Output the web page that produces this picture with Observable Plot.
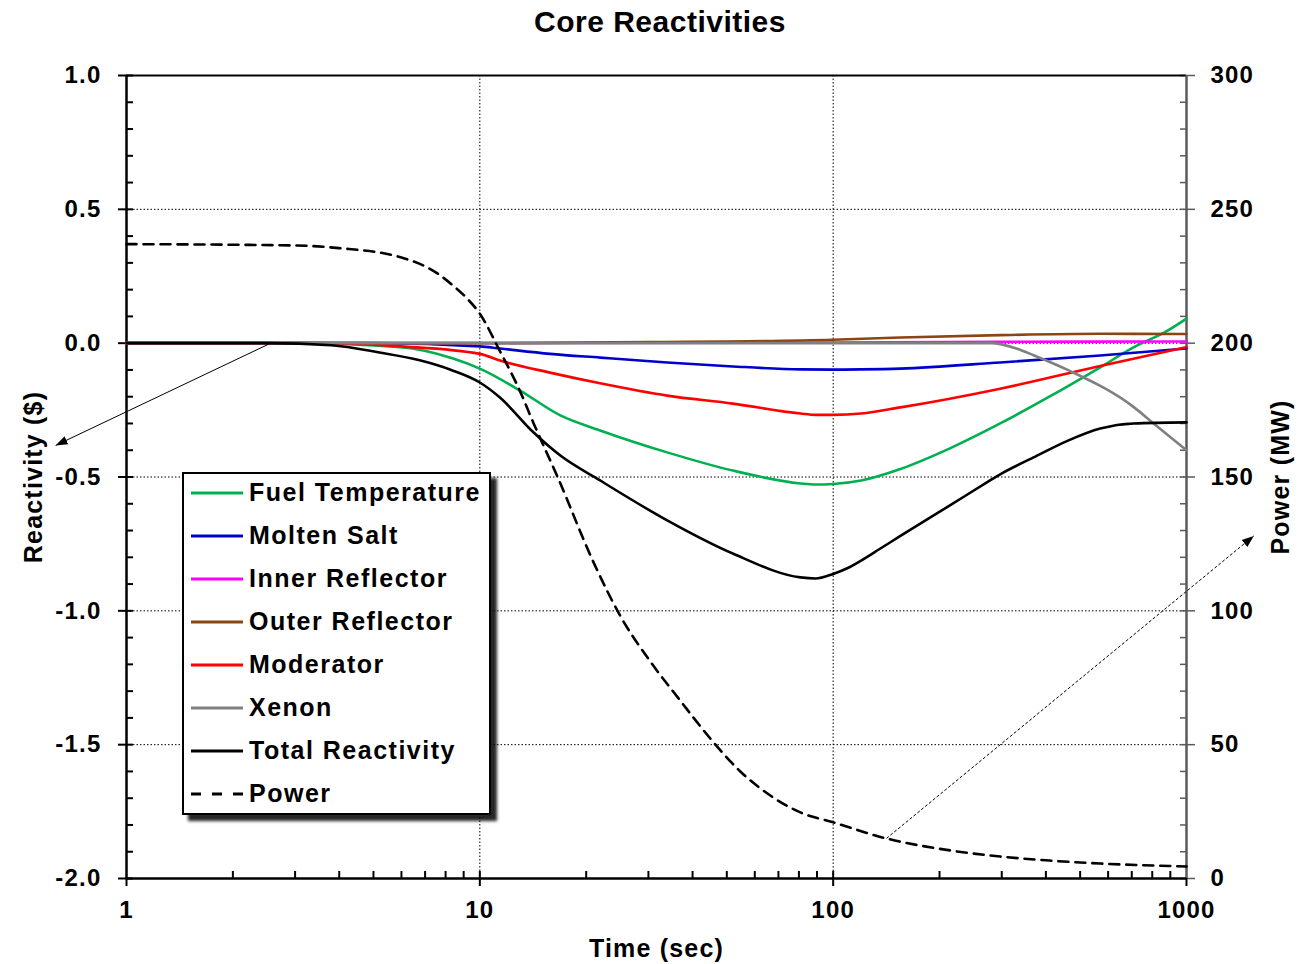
<!DOCTYPE html>
<html><head><meta charset="utf-8">
<script src="https://cdn.jsdelivr.net/npm/d3@7"></script>
<script src="https://cdn.jsdelivr.net/npm/@observablehq/plot@0.6"></script>
<style>
html,body{margin:0;padding:0;background:#fff;overflow:hidden;}
body{font-family:"Liberation Sans",Arial,sans-serif;font-weight:bold;color:#000;position:relative;width:1312px;height:964px;}
#title{height:44px;line-height:44px;text-align:center;font-size:30px;letter-spacing:0.5px;padding-left:8px;box-sizing:border-box;}
#legend{position:absolute;left:182px;top:472px;width:309px;height:343px;box-sizing:border-box;border:2px solid #000;background:#fff;box-shadow:6px 6px 3px rgba(0,0,0,0.85);}
#legend .rows{margin-top:-3px;}
.row{height:43px;display:flex;align-items:center;font-size:25px;letter-spacing:1.5px;padding-left:7px;white-space:nowrap;}
.row svg{margin-right:6px;flex:none;display:block;}
</style></head>
<body>
<div id="title">Core Reactivities</div>
<div id="chart"></div>
<div id="legend"><div class="rows"></div></div>
<script>
// ---------- data (time in sec, reactivity in $, power in MW) ----------
const tFuel = [1, 3, 5.96, 8.4, 10, 13, 16.9, 21.9, 33.9, 52, 80.8, 89, 100, 120, 155, 214, 297, 409, 570, 708, 884, 1000];
const rFuel = [0, 0, -0.015, -0.057, -0.095, -0.177, -0.27, -0.326, -0.408, -0.476, -0.524, -0.528, -0.526, -0.513, -0.47, -0.393, -0.30, -0.20, -0.09, -0.016, 0.047, 0.092];

const tSalt = [1, 5, 10, 11.4, 15.8, 21.9, 33.9, 52, 80.8, 100, 120, 155, 297, 570, 1000];
const rSalt = [0, 0, -0.012, -0.02, -0.04, -0.054, -0.072, -0.087, -0.098, -0.099, -0.098, -0.095, -0.072, -0.046, -0.02];

const tInner = [1, 100, 300, 1000];
const rInner = [0, 0.002, 0.005, 0.006];

const tOuter = [1, 10, 30, 100, 155, 297, 570, 1000];
const rOuter = [0, 0, 0.004, 0.013, 0.021, 0.03, 0.035, 0.034];

const tMod = [1, 3.5, 6, 10, 11.4, 15.8, 21.9, 33.9, 52, 80.8, 89, 100, 120, 155, 297, 570, 1000];
const rMod = [0, 0, -0.012, -0.04, -0.065, -0.11, -0.15, -0.196, -0.226, -0.263, -0.268, -0.268, -0.263, -0.24, -0.17, -0.085, -0.015];

const tXe = [1, 280, 330, 369, 461, 708, 807, 1000];
const rXe = [0, 0, -0.02, -0.045, -0.10, -0.238, -0.30, -0.40];

const tTot = [1, 2.5, 3.8, 5.2, 6.8, 8.3, 10, 11.4, 14.2, 16.9, 21.9, 33.9, 52, 80.8, 89, 100, 110, 120, 135, 155, 214, 278, 297, 369, 462, 570, 708, 1000];
const rTot = [0, 0, -0.008, -0.035, -0.065, -0.10, -0.147, -0.203, -0.334, -0.42, -0.513, -0.662, -0.786, -0.875, -0.879, -0.862, -0.84, -0.812, -0.77, -0.72, -0.606, -0.513, -0.49, -0.427, -0.364, -0.319, -0.30, -0.296];

const tPow = [1, 3, 4, 6, 7.6, 8.4, 9.2, 10, 11.4, 13, 14.2, 16.6, 21, 25, 30.4, 36.9, 44.9, 54.6, 66.4, 80.7, 100, 141, 214, 297, 409, 570, 1000];
const pPow = [237, 236.5, 235.5, 232, 226, 221.5, 216.7, 211, 197, 182, 170, 150, 118, 98, 81, 66.5, 52.3, 40, 31, 24.7, 21, 15, 10.5, 8.2, 6.7, 5.6, 4.5];

// axis ticks
const yMajor = [-2, -1.5, -1, -0.5, 0, 0.5, 1];
const yMinor = [-2, -1.9, -1.8, -1.7, -1.6, -1.5, -1.4, -1.3, -1.2, -1.1, -1, -0.9, -0.8, -0.7, -0.6, -0.5, -0.4, -0.3, -0.2, -0.1, 0, 0.1, 0.2, 0.3, 0.4, 0.5, 0.6, 0.7, 0.8, 0.9, 1];
const xMajor = [1, 10, 100, 1000];
const xMinor = [2, 3, 4, 5, 6, 7, 8, 9, 10, 20, 30, 40, 50, 60, 70, 80, 90, 100, 200, 300, 400, 500, 600, 700, 800, 900];
const yGrid = [-1.5, -1, -0.5, 0, 0.5];
const xGrid = [10, 100];

// annotation arrows (time, reactivity $)
const arrowSolid = [{x1: 2.56, y1: 0, x2: 0.63, y2: -0.382}];
const arrowDashed = [{x1: 141.6, y1: -1.85, x2: 1550, y2: -0.72}];

// series definition
const series = [
  {name: "Fuel Temperature", t: tFuel, v: rFuel, color: "#00B050"},
  {name: "Molten Salt", t: tSalt, v: rSalt, color: "#0000CC"},
  {name: "Inner Reflector", t: tInner, v: rInner, color: "#FF00FF"},
  {name: "Outer Reflector", t: tOuter, v: rOuter, color: "#8B4513"},
  {name: "Moderator", t: tMod, v: rMod, color: "#FF0000"},
  {name: "Xenon", t: tXe, v: rXe, color: "#808080"},
  {name: "Total Reactivity", t: tTot, v: rTot, color: "#000000"}
];
const powerSeries = {name: "Power", t: tPow, v: pPow, color: "#000000"};

const toRows = s => s.t.map((t, i) => ({t, v: s.v[i]}));
const fmt1 = d => d.toFixed(1);
const powFmt = d => String(Math.round((d + 2) * 100));
const blank = () => "";
const grey = "#5a5a5a";

const chart = Plot.plot({
  width: 1312,
  height: 920,
  marginTop: 31,
  marginBottom: 86,
  marginLeft: 126,
  marginRight: 126,
  x: {type: "log", domain: [1, 1000], axis: null},
  y: {domain: [-2, 1], axis: null},
  style: {fontFamily: '"Liberation Sans", Arial, sans-serif', fontSize: "24px", fontWeight: "bold", letterSpacing: "1.2px", color: "#000", background: "#fff", overflow: "visible"},
  marks: [
    Plot.gridY(yGrid, {stroke: "#000", strokeOpacity: 1, strokeWidth: 1, strokeDasharray: "1.5,2"}),
    Plot.gridX(xGrid, {stroke: "#000", strokeOpacity: 1, strokeWidth: 1, strokeDasharray: "1.5,2"}),
    Plot.axisY({ticks: yMajor, anchor: "left", tickSize: 8, tickPadding: 17, tickFormat: fmt1, strokeWidth: 2, label: null}),
    Plot.axisY({ticks: yMinor, anchor: "left", tickSize: -7, tickFormat: blank, strokeWidth: 2, label: null}),
    Plot.axisY({ticks: yMajor, anchor: "right", tickSize: 8, tickPadding: 16, tickFormat: powFmt, stroke: grey, fill: "#000", strokeWidth: 1.5, label: null}),
    Plot.axisY({ticks: yMinor, anchor: "right", tickSize: -7, tickFormat: blank, stroke: grey, strokeWidth: 1.5, label: null}),
    Plot.axisX({ticks: xMajor, anchor: "bottom", tickSize: 8, tickPadding: 14, tickFormat: d => String(d), strokeWidth: 2, label: null}),
    Plot.axisX({ticks: xMinor, anchor: "bottom", tickSize: -7, tickFormat: blank, strokeWidth: 2, label: null}),
    Plot.ruleY([1], {stroke: "#000", strokeWidth: 2}),
    Plot.ruleX([1000], {stroke: grey, strokeWidth: 2.5}),
    Plot.ruleX([1], {stroke: "#000", strokeWidth: 2.5}),
    Plot.ruleY([-2], {stroke: "#000", strokeWidth: 2.5}),
    ...series.map(s => Plot.line(toRows(s), {x: "t", y: "v", stroke: s.color, strokeWidth: 2.6, curve: "monotone-x"})),
    Plot.line(toRows(powerSeries), {x: "t", y: d => d.v / 100 - 2, stroke: "#000", strokeWidth: 2.6, strokeDasharray: "10,7", curve: "monotone-x"}),
    Plot.link(arrowSolid, {x1: "x1", y1: "y1", x2: "x2", y2: "y2", stroke: "#000", strokeWidth: 1}),
    Plot.link(arrowDashed, {x1: "x1", y1: "y1", x2: "x2", y2: "y2", stroke: "#000", strokeWidth: 1, strokeDasharray: "3,2"}),
    Plot.text(["Reactivity ($)"], {text: d => d, frameAnchor: "left", textAnchor: "middle", dx: -93, rotate: -90, fontSize: 25}),
    Plot.text(["Power (MW)"], {text: d => d, frameAnchor: "right", textAnchor: "middle", dx: 94, rotate: -90, fontSize: 25}),
    Plot.text(["Time (sec)"], {text: d => d, frameAnchor: "bottom", dy: 78, fontSize: 25})
  ]
});
document.getElementById("chart").appendChild(chart);

// filled arrowheads on annotation links
const svg = d3.select(chart);
const defs = svg.insert("defs", ":first-child");
const mk = defs.append("marker").attr("id", "filled-head")
  .attr("viewBox", "0 -5 12 10").attr("refX", 12).attr("refY", 0)
  .attr("markerWidth", 12).attr("markerHeight", 10)
  .attr("markerUnits", "userSpaceOnUse").attr("orient", "auto");
mk.append("path").attr("d", "M0,-4.5L12,0L0,4.5Z").attr("fill", "#000").attr("stroke", "none").attr("stroke-dasharray", "none");
svg.selectAll('g[aria-label="link"] path').attr("marker-end", "url(#filled-head)");

// legend
const rowsDiv = d3.select("#legend .rows");
[...series, powerSeries].forEach(s => {
  const row = rowsDiv.append("div").attr("class", "row");
  const sw = row.append("svg").attr("width", 52).attr("height", 6);
  sw.append("line").attr("x1", 0).attr("x2", 52).attr("y1", 3).attr("y2", 3)
    .attr("stroke", s.color).attr("stroke-width", 3)
    .attr("stroke-dasharray", s.name === "Power" ? "10,11" : null);
  row.append("span").text(s.name);
});
</script>
</body></html>
